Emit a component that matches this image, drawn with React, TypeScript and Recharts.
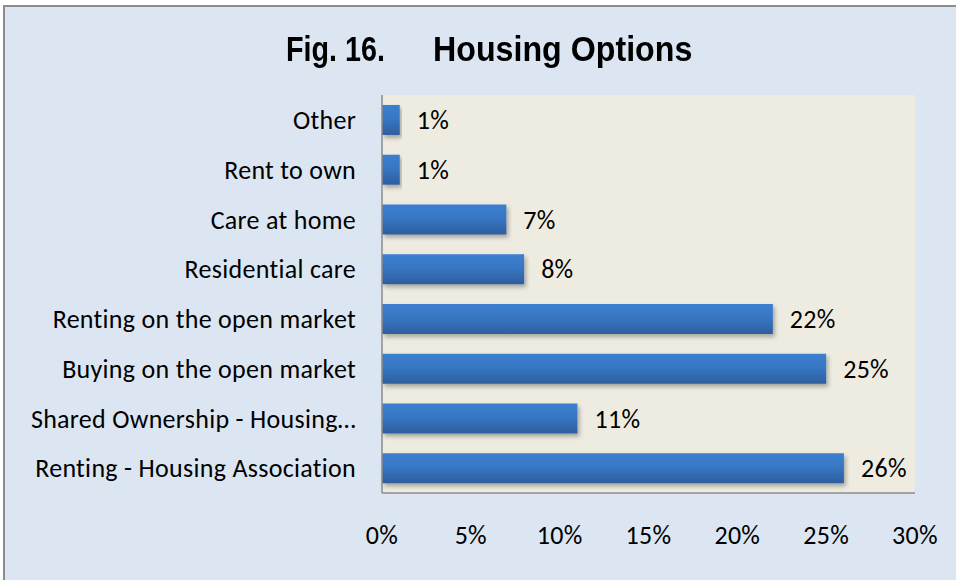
import React from "react";
import { BarChart, Bar, XAxis, YAxis, CartesianGrid, LabelList } from "recharts";

const categories = [
  "Other",
  "Rent to own",
  "Care at home",
  "Residential care",
  "Renting on the open market",
  "Buying on the open market",
  "Shared Ownership - Housing…",
  "Renting - Housing Association",
];
const values = [1, 1, 7, 8, 22, 25, 11, 26];
const xTicks = [0, 5, 10, 15, 20, 25, 30];
const title = "Fig. 16.";
const titleRest = "Housing Options";

const data = categories.map((name, i) => ({ name, value: values[i] }));

const labelFont = "Carlito, Calibri, Lato, 'Open Sans', sans-serif";
const titleFont = "'Liberation Sans Narrow', 'Arial Narrow', 'Liberation Sans', Arial, sans-serif";

const titleStyle: React.CSSProperties = {
  position: "absolute",
  top: 29,
  fontFamily: titleFont,
  fontWeight: "bold",
  fontSize: 35,
  lineHeight: "40px",
  color: "#000",
  whiteSpace: "pre",
  transformOrigin: "left top",
};

const tickStyle = { fill: "#000", fontSize: 26, fontFamily: labelFont, letterSpacing: 0.3 };

export default function App() {
  return (
    <div
      style={{
        position: "fixed",
        left: 3,
        top: 5,
        width: 980,
        height: 600,
        border: "2px solid #8c8c8c",
        background: "#dce6f2",
        boxSizing: "border-box",
      }}
    >
      <div
        style={{
          position: "absolute",
          left: -5,
          top: -7,
          width: 956,
          height: 580,
        }}
      >
        <div style={{ ...titleStyle, left: 286, transform: "scaleX(0.82)" }}>{title}</div>
        <div style={{ ...titleStyle, left: 433, transform: "scaleX(0.92)" }}>{titleRest}</div>
        <BarChart
          width={956}
          height={580}
          data={data}
          layout="vertical"
          margin={{ top: 95, right: 41, bottom: 57, left: 0 }}
          barCategoryGap="20%"
        >
          <defs>
            <linearGradient id="barGrad" x1="0" y1="0" x2="0" y2="1">
              <stop offset="0%" stopColor="#3c7fd0" />
              <stop offset="45%" stopColor="#3877c4" />
              <stop offset="100%" stopColor="#2d5e9d" />
            </linearGradient>
            <filter id="shadow" x="-5%" y="-20%" width="115%" height="160%">
              <feDropShadow dx="2" dy="3" stdDeviation="2" floodColor="#000" floodOpacity="0.3" />
            </filter>
          </defs>
          <CartesianGrid fill="#eeece1" stroke="none" horizontal={false} vertical={false} />
          <XAxis
            type="number"
            domain={[0, 30]}
            ticks={xTicks}
            tickFormatter={(v) => `${v}%`}
            axisLine={{ stroke: "#8c8c8c", strokeWidth: 1.5 }}
            tickLine={false}
            tickSize={0}
            tickMargin={33}
            height={30}
            tick={tickStyle}
            interval={0}
          />
          <YAxis
            type="category"
            dataKey="name"
            width={382}
            axisLine={{ stroke: "#8c8c8c", strokeWidth: 1.5 }}
            tickLine={false}
            tickSize={0}
            tickMargin={26}
            tick={tickStyle}
            interval={0}
          />
          <Bar dataKey="value" fill="url(#barGrad)" isAnimationActive={false} filter="url(#shadow)">
            <LabelList
              dataKey="value"
              position="right"
              offset={17}
              formatter={(v: number) => `${v}%`}
              style={tickStyle}
            />
          </Bar>
        </BarChart>
      </div>
    </div>
  );
}
